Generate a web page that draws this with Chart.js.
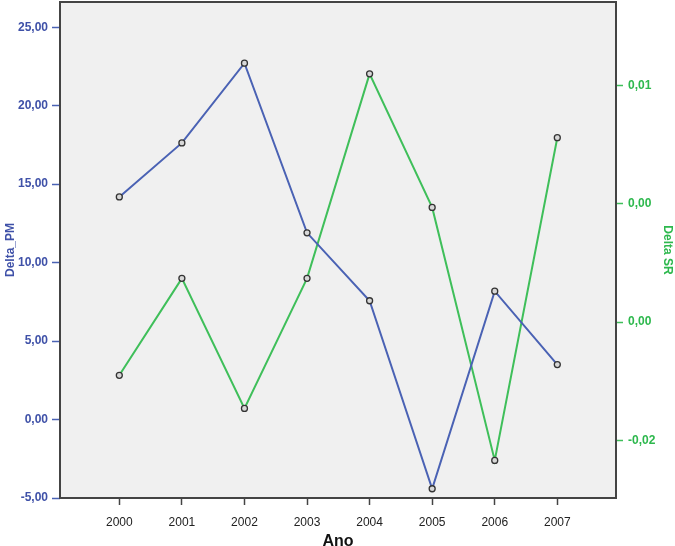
<!DOCTYPE html>
<html><head><meta charset="utf-8">
<script src="https://cdn.jsdelivr.net/npm/chart.js@4/dist/chart.umd.min.js"></script>
<style>html,body{margin:0;padding:0;background:#fff;}#wrap{width:675px;height:546px;}</style>
</head><body><div id="wrap"><canvas id="c" width="675" height="546"></canvas></div>
<script>
const years = [2000, 2001, 2002, 2003, 2004, 2005, 2006, 2007];
const yearLabels = ["2000", "2001", "2002", "2003", "2004", "2005", "2006", "2007"];
const deltaPM = [14.19, 17.63, 22.71, 11.90, 7.57, -4.41, 8.18, 3.50];
const deltaSR = [-0.0145, -0.0063, -0.0173, -0.0063, 0.0110, -0.0003, -0.0217, 0.0056];
const leftTicks = [-5, 0, 5, 10, 15, 20, 25];
const leftTickLabels = ["-5,00", "0,00", "5,00", "10,00", "15,00", "20,00", "25,00"];
const rightTicks = [-0.02, -0.01, 0, 0.01];
const rightTickLabels = ["-0,02", "0,00", "0,00", "0,01"];

const BLUE = '#4a62b4';
const BLUE_TXT = '#3f51a8';
const GREEN = '#3fbf5a';
const GREEN_TXT = '#2db84d';
const FONT = '"Liberation Sans", Arial, sans-serif';

const frame = {
  id: 'frame',
  beforeDraw(chart) {
    const {ctx, chartArea: a} = chart;
    ctx.save();
    ctx.fillStyle = '#f0f0f0';
    ctx.fillRect(a.left, a.top, a.right - a.left, a.bottom - a.top);
    ctx.restore();
  },
  beforeDatasetsDraw(chart) {
    const {ctx, chartArea: a} = chart;
    ctx.save();
    ctx.strokeStyle = '#444';
    ctx.lineWidth = 2;
    ctx.strokeRect(a.left, a.top, a.right - a.left, a.bottom - a.top);
    ctx.restore();
  }
};

function setTicks(values) {
  return function (scale) { scale.ticks = values.map(v => ({value: v})); };
}
function noPad(s) { s.paddingTop = 0; s.paddingBottom = 0; s.paddingLeft = 0; s.paddingRight = 0; }

new Chart(document.getElementById('c'), {
  type: 'line',
  data: {
    datasets: [
      {
        label: 'Delta_PM',
        data: years.map((x, i) => ({x: x, y: deltaPM[i]})),
        yAxisID: 'yL',
        borderColor: BLUE,
        borderWidth: 2,
        pointRadius: 3,
        pointBorderWidth: 1.3,
        pointBorderColor: '#333',
        pointBackgroundColor: '#d8d8d8',
        tension: 0
      },
      {
        label: 'Delta SR',
        data: years.map((x, i) => ({x: x, y: deltaSR[i]})),
        yAxisID: 'yR',
        borderColor: GREEN,
        borderWidth: 2,
        pointRadius: 3,
        pointBorderWidth: 1.3,
        pointBorderColor: '#333',
        pointBackgroundColor: '#d8d8d8',
        tension: 0
      }
    ]
  },
  options: {
    responsive: false,
    devicePixelRatio: 1,
    animation: false,
    layout: {autoPadding: false, padding: {top: 2, left: 0, right: 0, bottom: 0}},
    plugins: {legend: {display: false}, tooltip: {enabled: false}, title: {display: false}},
    scales: {
      x: {
        type: 'linear',
        min: 1999.052,
        max: 2007.938,
        afterBuildTicks: setTicks(years),
        afterFit(s) { s.height = 48; noPad(s); },
        border: {display: false},
        grid: {display: true, drawOnChartArea: false, drawTicks: true, tickLength: 7, tickColor: '#444', tickWidth: 1.5},
        ticks: {
          padding: 10,
          color: '#222',
          font: {family: FONT, size: 12},
          maxRotation: 0,
          autoSkip: false,
          callback: (v) => { const i = years.indexOf(v); return i >= 0 ? yearLabels[i] : ''; }
        },
        title: {display: true, text: 'Ano', color: '#111', font: {family: FONT, size: 16, weight: 'bold', lineHeight: 0.6}, padding: {top: 0, bottom: 0}}
      },
      yL: {
        type: 'linear',
        position: 'left',
        min: -5,
        max: 26.61,
        afterBuildTicks: setTicks(leftTicks),
        afterFit(s) { s.width = 60; noPad(s); },
        border: {display: false},
        grid: {display: true, drawOnChartArea: false, drawTicks: true, tickLength: 8, tickColor: BLUE, tickWidth: 1.5},
        ticks: {
          padding: 4,
          color: BLUE_TXT,
          font: {family: FONT, size: 12, weight: 'bold'},
          callback: (v) => { const i = leftTicks.indexOf(v); return i >= 0 ? leftTickLabels[i] : ''; }
        },
        title: {display: true, text: 'Delta_PM', color: BLUE_TXT, font: {family: FONT, size: 12, weight: 'bold'}, padding: {top: 3, bottom: 0}}
      },
      yR: {
        type: 'linear',
        position: 'right',
        min: -0.02488,
        max: 0.01708,
        afterBuildTicks: setTicks(rightTicks),
        afterFit(s) { s.width = 59; noPad(s); },
        border: {display: false},
        grid: {display: true, drawOnChartArea: false, drawTicks: true, tickLength: 7, tickColor: GREEN, tickWidth: 1.5},
        ticks: {
          padding: 5,
          color: GREEN_TXT,
          font: {family: FONT, size: 12, weight: 'bold'},
          callback: (v) => { const i = rightTicks.indexOf(v); return i >= 0 ? rightTickLabels[i] : ''; }
        },
        title: {display: true, text: 'Delta SR', color: GREEN_TXT, font: {family: FONT, size: 12, weight: 'bold'}, padding: {top: 0, bottom: 0}}
      }
    }
  },
  plugins: [frame]
});
</script>
</body></html>
